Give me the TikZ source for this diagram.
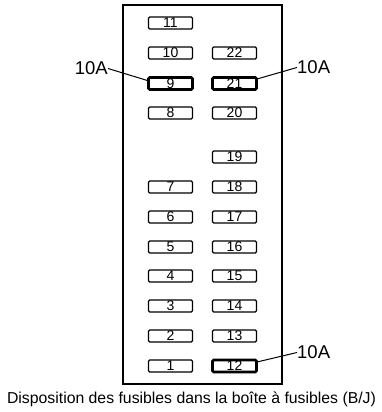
\documentclass[tikz,border=0pt]{standalone}
\usepackage{fontspec}
\setmainfont{Liberation Sans}
\begin{document}
\begin{tikzpicture}[x=1pt,y=-1pt,
  fuse/.style={draw, line width=1.2pt, rounded corners=1.2pt, minimum width=44pt, minimum height=12pt, inner sep=0pt, font=\fontsize{14}{14}\selectfont},
  hot/.style={fuse, line width=2.6pt},
  amp/.style={font=\fontsize{18.5}{18.5}\selectfont, inner sep=0pt},
  lead/.style={line width=1pt}]
\useasboundingbox (0,0) rectangle (381,412);
\draw[line width=1.1pt] (123,5) rectangle (282,384);
% left column
\node[fuse] (f11) at (170.5,23) {11};
\node[fuse] (f10) at (170.5,53) {10};
\node[hot]  (f9)  at (170.5,83.5) {9};
\node[fuse] (f8)  at (170.5,113) {8};
\node[fuse] (f7)  at (170.5,187) {7};
\node[fuse] (f6)  at (170.5,217) {6};
\node[fuse] (f5)  at (170.5,247) {5};
\node[fuse] (f4)  at (170.5,276) {4};
\node[fuse] (f3)  at (170.5,306) {3};
\node[fuse] (f2)  at (170.5,336) {2};
\node[fuse] (f1)  at (170.5,366) {1};
% right column
\node[fuse] (f22) at (234.5,53) {22};
\node[hot]  (f21) at (234.5,83.5) {21};
\node[fuse] (f20) at (234.5,113) {20};
\node[fuse] (f19) at (234.5,157) {19};
\node[fuse] (f18) at (234.5,187) {18};
\node[fuse] (f17) at (234.5,217) {17};
\node[fuse] (f16) at (234.5,247) {16};
\node[fuse] (f15) at (234.5,276) {15};
\node[fuse] (f14) at (234.5,306) {14};
\node[fuse] (f13) at (234.5,336) {13};
\node[hot]  (f12) at (234.5,366) {12};
% labels
\node[amp, anchor=east] (a9) at (108,68.5) {10A};
\node[amp, anchor=west] (a21) at (297,67.5) {10A};
\node[amp, anchor=west] (a12) at (297,352.5) {10A};
\coordinate (c9) at (149,81);
\coordinate (c21) at (257,79);
\coordinate (c12) at (257,362);
\draw[lead] (a9.east) -- (c9);
\draw[lead] (a21.west) -- (c21);
\draw[lead] (a12.west) -- (c12);
\node[font=\fontsize{15.8}{15.8}\selectfont] (cap) at (191.5,399) {Disposition des fusibles dans la boîte à fusibles (B/J)};
\end{tikzpicture}
\end{document}
